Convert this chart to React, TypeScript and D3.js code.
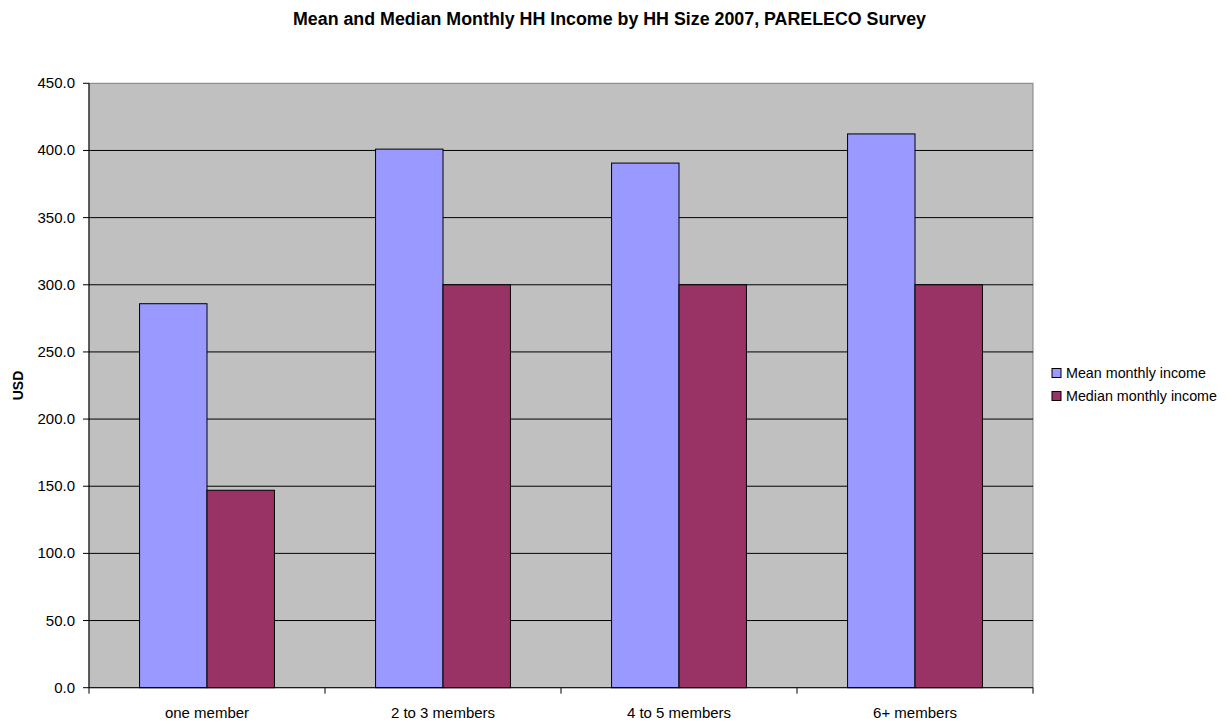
import React from "react";
import * as d3 from "d3";

const categories = ["one member", "2 to 3 members", "4 to 5 members", "6+ members"];
const seriesNames = ["Mean monthly income", "Median monthly income"];
const meanValues = [285.9, 401.0, 390.6, 412.3];
const medianValues = [147.0, 300.0, 300.0, 300.0];
const yTicks = [0, 50, 100, 150, 200, 250, 300, 350, 400, 450];
const colors = ["#9999FF", "#993366"];

const W = 1227;
const H = 724;
const left = 89;
const right = 1033;
const top = 83.3;
const bottom = 687.7;
const FONT = "'Liberation Sans', Arial, sans-serif";

export default function App() {
  const x = d3.scaleBand<string>().domain(categories).range([left, right]).paddingInner(0).paddingOuter(0);
  const y = d3.scaleLinear().domain([0, 450]).range([bottom, top]);
  const bw = x.bandwidth();
  const barW = bw / 3.5;
  const offset = bw * 0.75 / 3.5;
  const series = [meanValues, medianValues];

  return (
    <svg width={W} height={H} style={{ position: "absolute", left: 0, top: 0, background: "#fff" }} fontFamily={FONT}>
      <text x={609.5} y={25} textAnchor="middle" fontSize={18} fontWeight="bold" textLength={633} lengthAdjust="spacingAndGlyphs">
        Mean and Median Monthly HH Income by HH Size 2007, PARELECO Survey
      </text>
      <rect x={left} y={top} width={right - left} height={bottom - top} fill="#C0C0C0" stroke="#808080" strokeWidth={1} />
      {yTicks.filter((t) => t > 0 && t < 450).map((t) => (
        <line key={"g" + t} x1={left} x2={right} y1={y(t)} y2={y(t)} stroke="#000" strokeWidth={1} />
      ))}
      {series.map((vals, si) =>
        categories.map((c, ci) => (
          <rect
            key={si + "-" + ci}
            x={(x(c) as number) + offset + si * barW}
            y={y(vals[ci])}
            width={barW}
            height={bottom - y(vals[ci])}
            fill={colors[si]}
            stroke="#000"
            strokeWidth={1}
          />
        ))
      )}
      <line x1={left} x2={left} y1={top} y2={bottom} stroke="#000" strokeWidth={1} />
      <line x1={left} x2={right} y1={bottom} y2={bottom} stroke="#000" strokeWidth={1} />
      {yTicks.map((t) => (
        <g key={"t" + t}>
          <line x1={left - 6} x2={left} y1={y(t)} y2={y(t)} stroke="#000" strokeWidth={1} />
          <text x={left - 14} y={y(t) + 5} textAnchor="end" fontSize={15}>
            {t.toFixed(1)}
          </text>
        </g>
      ))}
      {[...categories.map((c) => x(c) as number), right].map((px, i) => (
        <line key={"xt" + i} x1={px} x2={px} y1={bottom} y2={bottom + 6} stroke="#000" strokeWidth={1} />
      ))}
      {categories.map((c) => (
        <text key={"xl" + c} x={(x(c) as number) + bw / 2} y={718} textAnchor="middle" fontSize={15}>
          {c}
        </text>
      ))}
      <text transform={`translate(23, ${(top + bottom) / 2}) rotate(-90)`} textAnchor="middle" fontSize={14} fontWeight="bold">
        USD
      </text>
      {seriesNames.map((name, i) => (
        <g key={"lg" + i}>
          <rect x={1052} y={368.5 + i * 23} width={9} height={9} fill={colors[i]} stroke="#000" strokeWidth={1} />
          <text x={1066} y={378 + i * 23} fontSize={14.3}>
            {name}
          </text>
        </g>
      ))}
    </svg>
  );
}
